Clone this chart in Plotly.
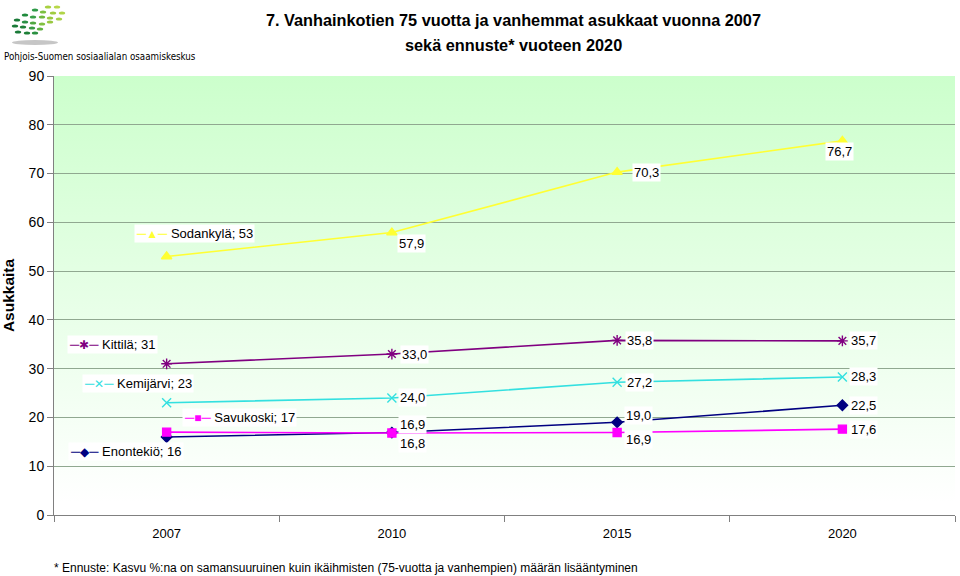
import base64
import plotly.graph_objects as go

# ---------------- data ----------------
years = ["2007", "2010", "2015", "2020"]
series_names = ["Enontekiö", "Savukoski", "Kemijärvi", "Kittilä", "Sodankylä"]
enontekio = [16, 16.9, 19.0, 22.5]
savukoski = [17, 16.8, 16.9, 17.6]
kemijarvi = [23, 24.0, 27.2, 28.3]
kittila = [31, 33.0, 35.8, 35.7]
sodankyla = [53, 57.9, 70.3, 76.7]
y_ticks = [0, 10, 20, 30, 40, 50, 60, 70, 80, 90]

title_line1 = "7. Vanhainkotien 75 vuotta ja vanhemmat asukkaat vuonna 2007"
title_line2 = "sekä ennuste* vuoteen 2020"
y_title = "Asukkaita"
footnote = "* Ennuste: Kasvu %:na on samansuuruinen kuin ikäihmisten (75-vuotta ja vanhempien) määrän lisääntyminen"
org_name = "Pohjois-Suomen sosiaalialan osaamiskeskus"

values = [enontekio, savukoski, kemijarvi, kittila, sodankyla]

# ---------------- styles ----------------
W, H = 960, 576
ML, MR, MT, MB = 54, 5, 76, 61
PW, PH = W - ML - MR, H - MT - MB

colors = ["#000080", "#FF00FF", "#33E0E0", "#800080", "#FFFF33"]
symbols = ["diamond", "square", "x-thin-open", "asterisk-open", "triangle-up"]
msizes = [8, 8, 9, 9, 9]
key_glyph = ["◆", "■", "✕", "✱", "▲"]

# label with key at first point: (xanchor, xshift, yshift)
first_label_pos = [("right", 17, -15), ("left", 15, 15), ("right", 27, 19),
                   ("right", -9, 19), ("left", -33, 23)]
# value label offsets for points 2..4 per series
value_offsets = [
    [(21, 8), (21, 7), (21, 0)],
    [(21, -10), (21, -7), (21, 0)],
    [(21, 0), (22, 0), (21, 0)],
    [(23, 0), (22, 0), (21, 0)],
    [(20, -11), (29, 0), (-3, -11)],
]

FONT = "Arial, Liberation Sans, sans-serif"


def px(x):
    return (x - ML) / PW


def py(y):
    return (H - MB - y) / PH


fig = go.Figure()

for name, vals, c, s, ms in zip(series_names, values, colors, symbols, msizes):
    fig.add_trace(go.Scatter(
        x=years, y=vals, mode="lines+markers", name=name,
        line=dict(color=c, width=1.6),
        marker=dict(symbol=s, size=ms, color=c, line=dict(color=c, width=1.4)),
        showlegend=False, hoverinfo="skip",
    ))

annotations = []


def fmt(v):
    return f"{v:.1f}".replace(".", ",")


for i, (name, vals) in enumerate(zip(series_names, values)):
    xa, xs, ys = first_label_pos[i]
    key = (f"<span style='color:{colors[i]}'>─<span style='font-size:12px'>{key_glyph[i]}</span>─</span> "
           f"{name}; {vals[0]:g}")
    annotations.append(dict(
        x=0, y=vals[0], xref="x", yref="y", text=key, showarrow=False,
        xanchor=xa, yanchor="middle", xshift=xs, yshift=ys,
        font=dict(family=FONT, size=13, color="black"),
        bgcolor="white", borderpad=1,
    ))
    for j in range(1, len(years)):
        dx, dy = value_offsets[i][j - 1]
        annotations.append(dict(
            x=j, y=vals[j], xref="x", yref="y", text=fmt(vals[j]),
            showarrow=False, xanchor="center", yanchor="middle",
            xshift=dx, yshift=dy,
            font=dict(family=FONT, size=13, color="black"),
            bgcolor="white", borderpad=1,
        ))

annotations += [
    dict(x=px(513), y=py(20), xref="paper", yref="paper", text=f"<b>{title_line1}</b>",
         showarrow=False, xanchor="center", yanchor="middle",
         font=dict(family=FONT, size=16.3, color="black")),
    dict(x=px(513), y=py(45), xref="paper", yref="paper", text=f"<b>{title_line2}</b>",
         showarrow=False, xanchor="center", yanchor="middle",
         font=dict(family=FONT, size=16.3, color="black")),
    dict(x=px(52), y=py(568), xref="paper", yref="paper", text=footnote,
         showarrow=False, xanchor="left", yanchor="middle",
         font=dict(family=FONT, size=12, color="black")),
    dict(x=px(2), y=py(57), xref="paper", yref="paper", text=org_name,
         showarrow=False, xanchor="left", yanchor="middle",
         font=dict(family="DejaVu Sans Condensed, DejaVu Sans", size=9.7, color="black")),
]

# ---- logo (decorative) ----
logo_dots = [(48, 7, "#a8d040"), (57, 7, "#b8d848"),
             (35, 10, "#2e9a48"), (43, 12, "#7cc040"), (53, 13, "#a0cc40"), (62, 13, "#b0d448"),
             (25, 15, "#1e8a3c"), (33, 17, "#3aa04a"), (42, 17, "#70b840"), (50, 18, "#98c840"), (59, 19, "#a8d048"),
             (17, 20, "#1a7a38"), (25, 22, "#2a9044"), (33, 23, "#50a840"), (42, 24, "#80c040"), (50, 22, "#98c840"),
             (15, 26, "#1a7a38"), (23, 27, "#1e8038"), (32, 28, "#3a9a44"), (40, 29, "#60b040"),
             (18, 32, "#1a7a38"), (27, 33, "#1e8038"), (35, 33, "#2a9040")]
shapes = []
for (cx, cy, col) in logo_dots:
    shapes.append(dict(type="circle", xref="paper", yref="paper",
                       x0=px(cx - 3.2), x1=px(cx + 3.2), y0=py(cy + 1.6), y1=py(cy - 1.6),
                       fillcolor=col, line=dict(width=0)))
shapes.append(dict(type="circle", xref="paper", yref="paper",
                   x0=px(12), x1=px(58), y0=py(45), y1=py(40),
                   fillcolor="#b8b8b8", line=dict(width=0), opacity=0.8))

# ---- gradient plot background ----
svg = ("<svg xmlns='http://www.w3.org/2000/svg' width='100' height='100' preserveAspectRatio='none'>"
       "<defs><linearGradient id='g' x1='0' y1='0' x2='0' y2='1'>"
       "<stop offset='0' stop-color='#ccffcc'/><stop offset='0.97' stop-color='#ffffff'/>"
       "</linearGradient></defs><rect width='100' height='100' fill='url(#g)'/></svg>")
uri = "data:image/svg+xml;base64," + base64.b64encode(svg.encode()).decode()

fig.update_layout(
    width=W, height=H,
    margin=dict(l=ML, r=MR, t=MT, b=MB, pad=0),
    paper_bgcolor="white", plot_bgcolor="rgba(0,0,0,0)",
    annotations=annotations, shapes=shapes,
    images=[dict(source=uri, xref="paper", yref="paper", x=0, y=1, sizex=1, sizey=1,
                 sizing="stretch", layer="below", xanchor="left", yanchor="top")],
    font=dict(family=FONT, color="black"),
)
fig.update_xaxes(
    type="category", categoryorder="array", categoryarray=years,
    range=[-0.5, 3.5], tickson="boundaries", ticks="outside", ticklen=6,
    tickcolor="#808080", showline=True, linecolor="#808080", linewidth=1,
    showgrid=False, zeroline=False, tickfont=dict(family=FONT, size=13),
    ticklabelstandoff=6,
)
fig.update_yaxes(
    range=[0, 90], tickvals=y_ticks, ticks="outside", ticklen=6, tickcolor="#808080",
    showline=True, linecolor="#808080", linewidth=1,
    showgrid=True, gridcolor="#90a890", gridwidth=1, zeroline=False,
    tickfont=dict(family=FONT, size=14), automargin=False,
    title=dict(text=f"<b>{y_title}</b>", font=dict(family=FONT, size=15.5), standoff=14),
)

fig.write_html("out.html", config={"displayModeBar": False},
               post_script="document.body.style.margin='0';")
